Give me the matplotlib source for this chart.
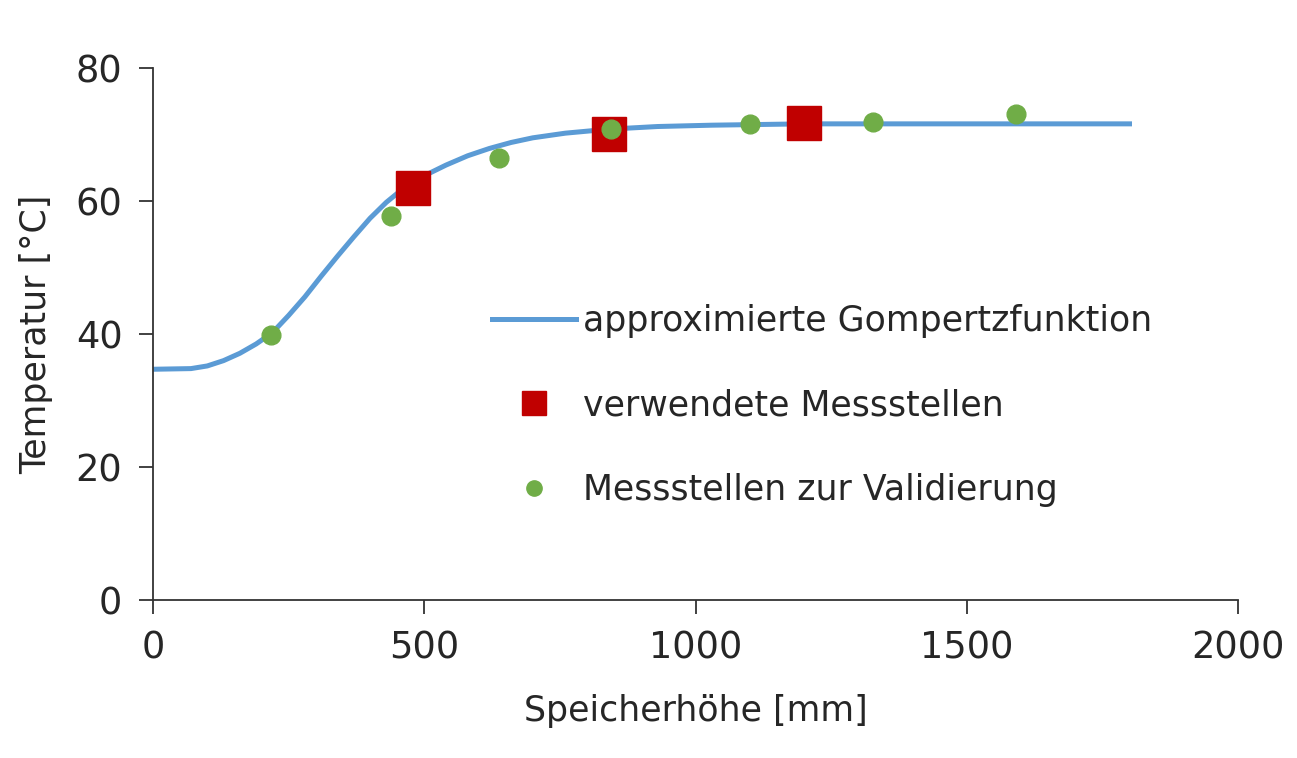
import matplotlib.pyplot as plt

# Gompertz curve
curve_x = [0, 70, 100, 130, 160, 190, 220, 250, 280, 310, 340, 370, 400, 430, 460,
           500, 540, 580, 620, 660, 700, 760, 840, 930, 1030, 1200, 1400, 1600, 1800]
curve_y = [34.7, 34.8, 35.2, 36.0, 37.1, 38.5, 40.2, 42.8, 45.6, 48.7, 51.7, 54.6,
           57.4, 59.8, 61.8, 63.8, 65.4, 66.8, 67.9, 68.8, 69.5, 70.2, 70.8, 71.2,
           71.4, 71.6, 71.6, 71.6, 71.6]

# measurement points
used_x = [480, 840, 1200]
used_y = [61.9, 70.0, 71.8]
valid_x = [218, 438, 638, 845, 1100, 1327, 1590]
valid_y = [39.8, 57.7, 66.4, 70.8, 71.6, 71.9, 73.1]

x_ticks = [0, 500, 1000, 1500, 2000]
y_ticks = [0, 20, 40, 60, 80]

BLUE = "#5B9BD5"
RED = "#C00000"
GREEN = "#70AD47"
TXT = "#262626"

plt.rcParams["font.family"] = "DejaVu Sans"

fig = plt.figure(figsize=(12.97, 7.58), dpi=100)
ax = fig.add_axes([0.118, 0.2084, 0.8365, 0.7019])

ax.plot(curve_x, curve_y, color=BLUE, lw=3.6, label="approximierte Gompertzfunktion", zorder=2)
ax.plot(used_x, used_y, ls="none", marker="s", ms=24, color=RED,
        label="verwendete Messstellen", zorder=3)
ax.plot(valid_x, valid_y, ls="none", marker="o", ms=13.5, color=GREEN, mec=GREEN,
        label="Messstellen zur Validierung", zorder=4)

ax.set_xlim(0, 2000)
ax.set_ylim(0, 80)
ax.set_xticks(x_ticks)
ax.set_yticks(y_ticks)
for s in ["top", "right"]:
    ax.spines[s].set_visible(False)
for s in ["left", "bottom"]:
    ax.spines[s].set_color("#333333")
    ax.spines[s].set_linewidth(1.3)
ax.tick_params(direction="out", length=10, width=1.3, color="#333333",
               labelsize=26.5, labelcolor=TXT)
ax.tick_params(axis="x", pad=11)
ax.tick_params(axis="y", pad=12)

ax.set_xlabel("Speicherhöhe [mm]", fontsize=25, color=TXT, labelpad=20)
ax.set_ylabel("Temperatur [°C]", fontsize=25, color=TXT, labelpad=16)

leg = ax.legend(loc="upper left", bbox_to_anchor=(0.3, 0.582), frameon=False,
                prop={"size": 25}, labelspacing=1.45,
                handlelength=2.4, handletextpad=0.2, borderaxespad=0)
for t in leg.get_texts():
    t.set_color(TXT)
leg.legend_handles[1].set_markersize(17)
leg.legend_handles[2].set_markersize(11)

fig.savefig("out.png", dpi=100)
